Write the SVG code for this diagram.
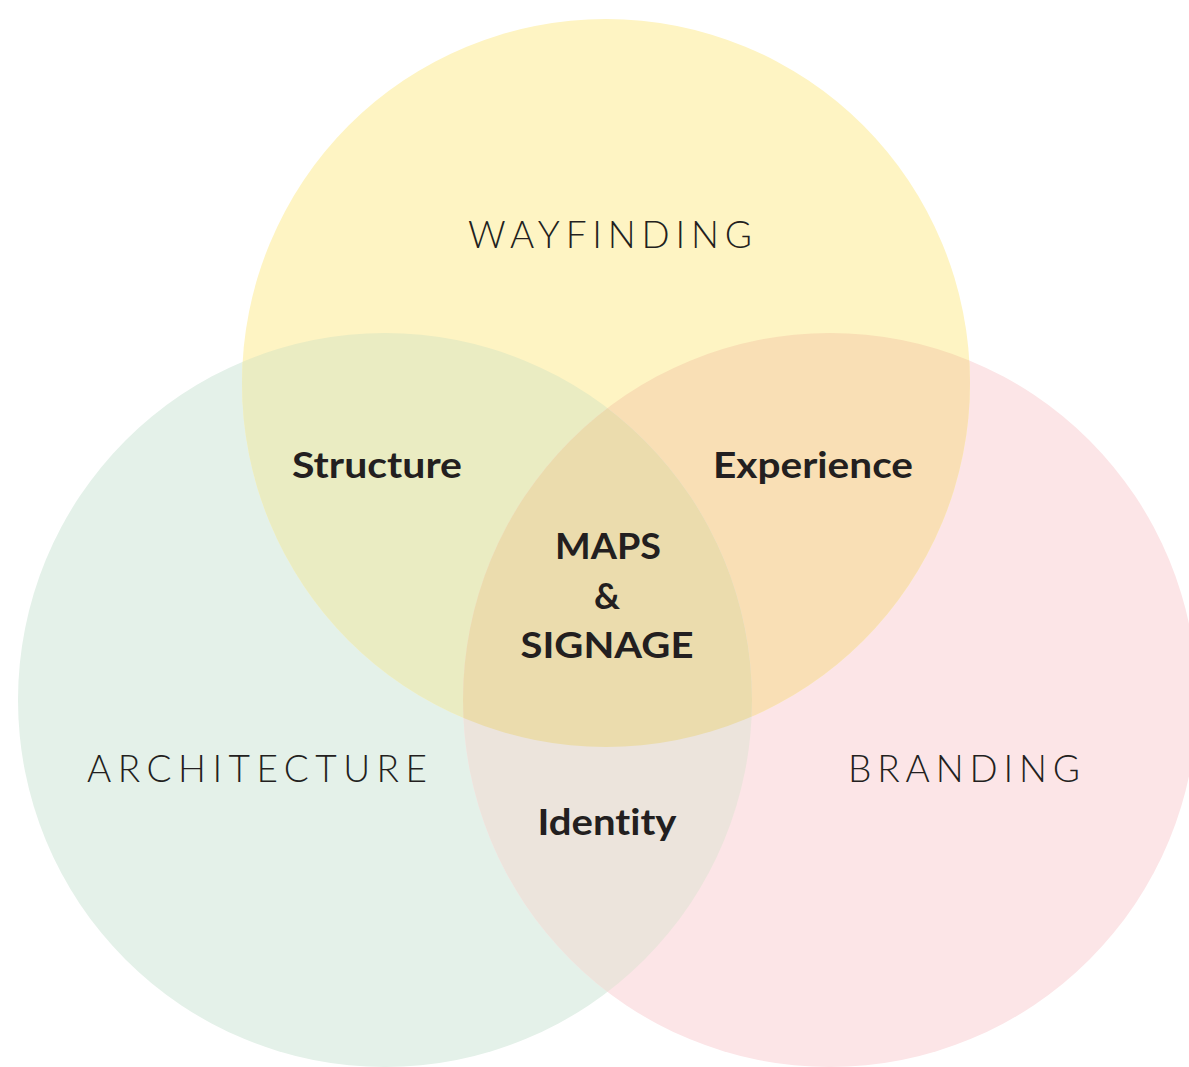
<svg xmlns="http://www.w3.org/2000/svg" width="1189" height="1067" viewBox="0 0 1189 1067">
<style>
text{font-variant-ligatures:none}
.thin{font-family:Lato,"Open Sans","Liberation Sans",sans-serif;font-weight:300;font-size:37px;fill:#231f20}
.bold{font-family:Lato,"Open Sans","Liberation Sans",sans-serif;font-weight:700;font-size:36px;fill:#231f20;text-anchor:middle}
</style>
<defs>
<clipPath id="cY"><circle cx="606" cy="383" r="364"/></clipPath>
<clipPath id="cG"><circle cx="385" cy="700" r="367"/></clipPath>
<clipPath id="cP"><circle cx="830" cy="700" r="367"/></clipPath>
</defs>
<rect width="1189" height="1067" fill="#ffffff"/>
<g id="architecture">
<circle cx="385" cy="700" r="367" fill="#e4f1e9"/>
</g>
<g id="branding">
<circle cx="830" cy="700" r="367" fill="#fce5e7"/>
</g>
<g id="wayfinding">
<circle cx="606" cy="383" r="364" fill="#fef4c3"/>
</g>
<g id="overlaps">
<circle cx="385" cy="700" r="367" fill="#eaecc2" clip-path="url(#cY)"/>
<circle cx="830" cy="700" r="367" fill="#f9dfb5" clip-path="url(#cY)"/>
<circle cx="830" cy="700" r="367" fill="#ece4dc" clip-path="url(#cG)"/>
<g clip-path="url(#cP)"><circle cx="385" cy="700" r="367" fill="#ebdcad" clip-path="url(#cY)"/></g>
</g>
<g id="connectors"></g>
<g id="labels">
<text class="thin" x="468" y="248" textLength="284" lengthAdjust="spacing">WAYFINDING</text>
<text class="thin" x="87" y="782" textLength="340" lengthAdjust="spacing">ARCHITECTURE</text>
<text class="thin" x="848" y="782" textLength="232" lengthAdjust="spacing">BRANDING</text>
<text class="bold" x="377" y="478" textLength="170" lengthAdjust="spacingAndGlyphs">Structure</text>
<text class="bold" x="813" y="478" textLength="200" lengthAdjust="spacingAndGlyphs">Experience</text>
<text class="bold" x="608" y="559" textLength="106" lengthAdjust="spacingAndGlyphs">MAPS</text>
<text class="bold" x="607" y="609">&amp;</text>
<text class="bold" x="607" y="658" textLength="173" lengthAdjust="spacingAndGlyphs">SIGNAGE</text>
<text class="bold" x="607" y="835" textLength="139" lengthAdjust="spacingAndGlyphs">Identity</text>
</g>
</svg>
